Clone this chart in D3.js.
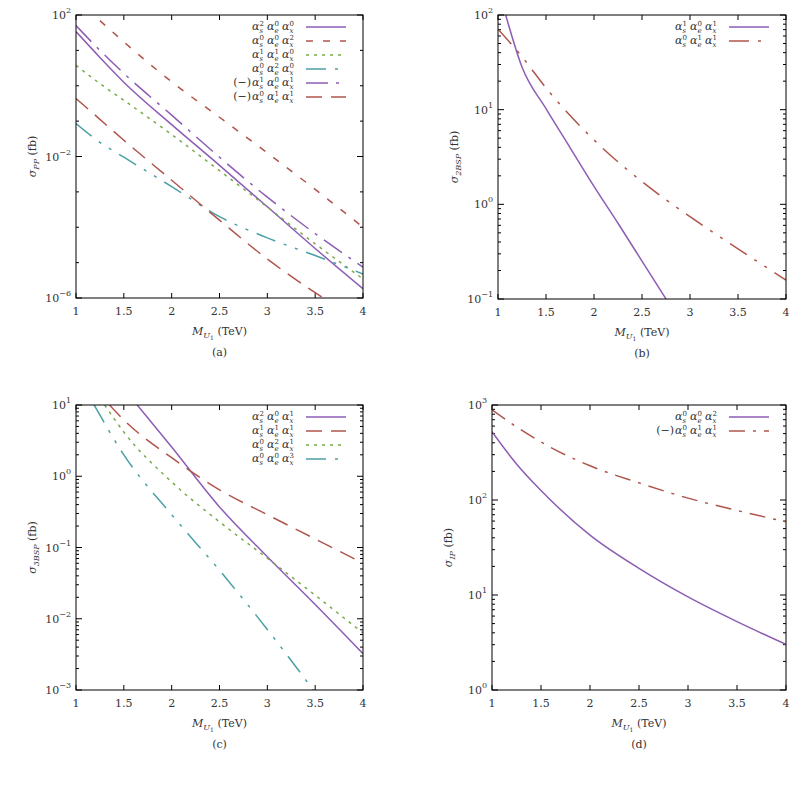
<!DOCTYPE html>
<html>
<head>
<meta charset="utf-8">
<script src="https://cdn.jsdelivr.net/npm/d3@7"></script>
<style>
  body { margin: 0; background: #fff; }
  text { font-family: "DejaVu Serif", "Liberation Serif", serif; fill: #333; }
</style>
</head>
<body>
<svg id="chart" width="797" height="787"></svg>
<script>
// ---- data (log10 of sigma in fb) ----
var massA = [1, 1.25, 1.5, 2, 2.5, 3, 3.5, 4];
var a_s2e0x0 = [1.53, 0.8, 0.1, -1.1, -2.25, -3.42, -4.6, -5.74];
var a_s0e0x2_m = [1.25, 1.5, 2, 2.5, 3, 3.5, 4];
var a_s0e0x2 = [1.84, 1.24, 0.11, -0.89, -1.9, -2.93, -4.0];
var a_s1e1x0 = [0.58, 0.06, -0.41, -1.38, -2.4, -3.43, -4.47, -5.46];
var a_s0e2x0 = [-1.07, -1.6, -2.02, -2.85, -3.7, -4.3, -4.8, -5.32];
var a_s1e0x1 = [1.7, 1.0, 0.35, -0.83, -2.02, -3.15, -4.18, -5.13];
var a_s0e1x1_m = [1, 1.25, 1.5, 2, 2.5, 3, 3.5, 3.6];
var a_s0e1x1 = [-0.36, -0.95, -1.54, -2.67, -3.8, -4.9, -5.85, -6.03];

var b_s1e0x1_m = [1.08, 1.25, 1.5, 1.75, 2, 2.25, 2.5, 2.75];
var b_s1e0x1 = [2.0, 1.45, 1.01, 0.6, 0.19, -0.2, -0.6, -1.0];
var b_s0e1x1_m = [1, 1.25, 1.5, 2, 2.5, 3, 3.5, 4];
var b_s0e1x1 = [1.85, 1.56, 1.23, 0.68, 0.24, -0.13, -0.47, -0.8];

var c_s2e0x1_m = [1.64, 2, 2.5, 3, 3.5, 4];
var c_s2e0x1 = [1, 0.41, -0.43, -1.13, -1.8, -2.49];
var c_s1e1x1_m = [1.35, 1.5, 2, 2.5, 3, 3.5, 4];
var c_s1e1x1 = [1, 0.79, 0.26, -0.19, -0.54, -0.88, -1.22];
var c_s0e2x1_m = [1.3, 1.5, 2, 2.5, 3, 3.5, 4];
var c_s0e2x1 = [1, 0.62, -0.08, -0.64, -1.15, -1.67, -2.2];
var c_s0e0x3_m = [1.19, 1.5, 2, 2.5, 3, 3.48];
var c_s0e0x3 = [1, 0.3, -0.54, -1.32, -2.15, -3];

var massD = [1, 1.25, 1.5, 2, 2.5, 3, 3.5, 4];
var d_s0e0x2 = [2.72, 2.38, 2.1, 1.63, 1.28, 0.98, 0.72, 0.48];
var d_s0e1x1 = [2.95, 2.77, 2.61, 2.36, 2.18, 2.02, 1.89, 1.77];

var xTicks = [1, 1.5, 2, 2.5, 3, 3.5, 4];

var purple = "#8d5db6", red = "#b0554c", green = "#79aa4b", teal = "#4aa1a4";
var styles = {
  solid: "",
  shortDash: "7,10",
  dotted: "3,5",
  dashDotDot: "20,9,3,9,3,9",
  longDashDot: "22,8,3,8",
  longDash: "16,9",
  dashDot: "16,8,3,8"
};

// legend label: alpha_s^a alpha_e^b alpha_x^c, optional (-) prefix, right-aligned at xr
function legendLabel(g, xr, yb, p) {
  var w = 15, x0 = xr - 3 * w;
  ["s", "e", "x"].forEach(function (k, i) {
    var xx = x0 + i * w;
    g.append("text").attr("x", xx).attr("y", yb).attr("font-size", 11).style("font-style", "italic").text("\u03b1");
    g.append("text").attr("x", xx + 7.5).attr("y", yb - 4).attr("font-size", 7).text(p[i]);
    g.append("text").attr("x", xx + 7.5).attr("y", yb + 3).attr("font-size", 7).style("font-style", "italic").text(k);
  });
  if (p[3]) g.append("text").attr("x", x0 - 1).attr("y", yb).attr("text-anchor", "end").attr("font-size", 11).text("(\u2212)");
}

var svg = d3.select("#chart");

function panel(o) {
  var g = svg.append("g");
  var x = d3.scaleLinear().domain([1, 4]).range([o.left, o.right]);
  var y = d3.scaleLinear().domain([o.ymin, o.ymax]).range([o.bottom, o.top]);

  g.append("clipPath").attr("id", "clip" + o.id).append("rect")
    .attr("x", o.left).attr("y", o.top)
    .attr("width", o.right - o.left).attr("height", o.bottom - o.top);

  // x ticks, mirrored on top
  xTicks.forEach(function (v) {
    g.append("line").attr("x1", x(v)).attr("x2", x(v)).attr("y1", o.bottom).attr("y2", o.bottom - 5).attr("stroke", "#000");
    g.append("line").attr("x1", x(v)).attr("x2", x(v)).attr("y1", o.top).attr("y2", o.top + 5).attr("stroke", "#000");
    g.append("text").attr("x", x(v)).attr("y", o.bottom + 17).attr("text-anchor", "middle")
      .attr("font-size", 11).text(v);
  });

  // y ticks (log decades), minor ticks
  for (var d = o.ymin; d <= o.ymax; d++) {
    var major = o.labels.indexOf(d) >= 0;
    var len = o.decadeMinor && !major ? 3 : 6;
    [o.left, o.right].forEach(function (px, side) {
      var dir = side ? -1 : 1;
      g.append("line").attr("x1", px).attr("x2", px + dir * len).attr("y1", y(d)).attr("y2", y(d)).attr("stroke", "#000");
    });
    if (major) {
      var t = g.append("text").attr("x", o.left - 5).attr("y", y(d) + 4).attr("text-anchor", "end").attr("font-size", 11);
      t.append("tspan").text("10");
      t.append("tspan").attr("font-size", 8).attr("dy", -6).text(d < 0 ? "\u2212" + (-d) : d);
    }
    if (!o.decadeMinor && d < o.ymax) {
      for (var m = 2; m <= 9; m++) {
        var yy = y(d + Math.log10(m));
        [o.left, o.right].forEach(function (px, side) {
          var dir = side ? -1 : 1;
          g.append("line").attr("x1", px).attr("x2", px + dir * 3).attr("y1", yy).attr("y2", yy).attr("stroke", "#000");
        });
      }
    }
  }

  var line = d3.line().curve(d3.curveMonotoneX)
    .x(function (p) { return x(p[0]); }).y(function (p) { return y(p[1]); });

  o.series.forEach(function (s, i) {
    g.append("path").attr("clip-path", "url(#clip" + o.id + ")")
      .datum(d3.zip(s.m, s.v))
      .attr("d", line).attr("fill", "none").attr("stroke", s.color)
      .attr("stroke-width", 1.5).attr("stroke-dasharray", styles[s.dash]);
    var ly = o.top + 12 + i * 14;
    g.append("line").attr("x1", o.right - 57).attr("x2", o.right - 17).attr("y1", ly).attr("y2", ly)
      .attr("stroke", s.color).attr("stroke-width", 1.5).attr("stroke-dasharray", styles[s.dash]);
    legendLabel(g, o.right - 66, ly + 3, s.label);
  });

  g.append("rect").attr("x", o.left).attr("y", o.top)
    .attr("width", o.right - o.left).attr("height", o.bottom - o.top)
    .attr("fill", "none").attr("stroke", "#000").attr("stroke-width", 1);

  // axis labels
  var xl = g.append("text").attr("x", (o.left + o.right) / 2).attr("y", o.bottom + 37)
    .attr("text-anchor", "middle").attr("font-size", 11);
  xl.append("tspan").style("font-style", "italic").text("M");
  xl.append("tspan").attr("font-size", 8).attr("dy", 3).style("font-style", "italic").text("U");
  xl.append("tspan").attr("font-size", 6).attr("dy", 2).text("1");
  xl.append("tspan").attr("dy", -5).text(" (TeV)");

  var yl = g.append("text").attr("transform", "translate(" + (o.left - 40) + "," + ((o.top + o.bottom) / 2) + ") rotate(-90)")
    .attr("text-anchor", "middle").attr("font-size", 11);
  yl.append("tspan").style("font-style", "italic").text("\u03c3");
  yl.append("tspan").attr("font-size", 8).attr("dy", 3).style("font-style", "italic").text(o.sub);
  yl.append("tspan").attr("dy", -3).text(" (fb)");

  g.append("text").attr("x", (o.left + o.right) / 2).attr("y", o.bottom + 58)
    .attr("text-anchor", "middle").attr("font-size", 11).text(o.caption);
}

panel({
  id: "a", left: 76, right: 363, top: 15, bottom: 298, ymin: -6, ymax: 2,
  labels: [2, -2, -6], decadeMinor: true, sub: "PP", caption: "(a)",
  series: [
    { m: massA, v: a_s2e0x0, color: purple, dash: "solid", label: [2, 0, 0] },
    { m: a_s0e0x2_m, v: a_s0e0x2, color: red, dash: "shortDash", label: [0, 0, 2] },
    { m: massA, v: a_s1e1x0, color: green, dash: "dotted", label: [1, 1, 0] },
    { m: massA, v: a_s0e2x0, color: teal, dash: "dashDotDot", label: [0, 2, 0] },
    { m: massA, v: a_s1e0x1, color: purple, dash: "longDashDot", label: [1, 0, 1, true] },
    { m: a_s0e1x1_m, v: a_s0e1x1, color: red, dash: "longDash", label: [0, 1, 1, true] }
  ]
});

panel({
  id: "b", left: 498, right: 786, top: 15, bottom: 299, ymin: -1, ymax: 2,
  labels: [2, 1, 0, -1], sub: "2BSP", caption: "(b)",
  series: [
    { m: b_s1e0x1_m, v: b_s1e0x1, color: purple, dash: "solid", label: [1, 0, 1] },
    { m: b_s0e1x1_m, v: b_s0e1x1, color: red, dash: "dashDotDot", label: [0, 1, 1] }
  ]
});

panel({
  id: "c", left: 76, right: 363, top: 405, bottom: 690, ymin: -3, ymax: 1,
  labels: [1, 0, -1, -2, -3], sub: "3BSP", caption: "(c)",
  series: [
    { m: c_s2e0x1_m, v: c_s2e0x1, color: purple, dash: "solid", label: [2, 0, 1] },
    { m: c_s1e1x1_m, v: c_s1e1x1, color: red, dash: "longDash", label: [1, 1, 1] },
    { m: c_s0e2x1_m, v: c_s0e2x1, color: green, dash: "dotted", label: [0, 2, 1] },
    { m: c_s0e0x3_m, v: c_s0e0x3, color: teal, dash: "dashDotDot", label: [0, 0, 3] }
  ]
});

panel({
  id: "d", left: 492, right: 786, top: 405, bottom: 690, ymin: 0, ymax: 3,
  labels: [3, 2, 1, 0], sub: "IP", caption: "(d)",
  series: [
    { m: massD, v: d_s0e0x2, color: purple, dash: "solid", label: [0, 0, 2] },
    { m: massD, v: d_s0e1x1, color: red, dash: "dashDot", label: [0, 1, 1, true] }
  ]
});
</script>
</body>
</html>
